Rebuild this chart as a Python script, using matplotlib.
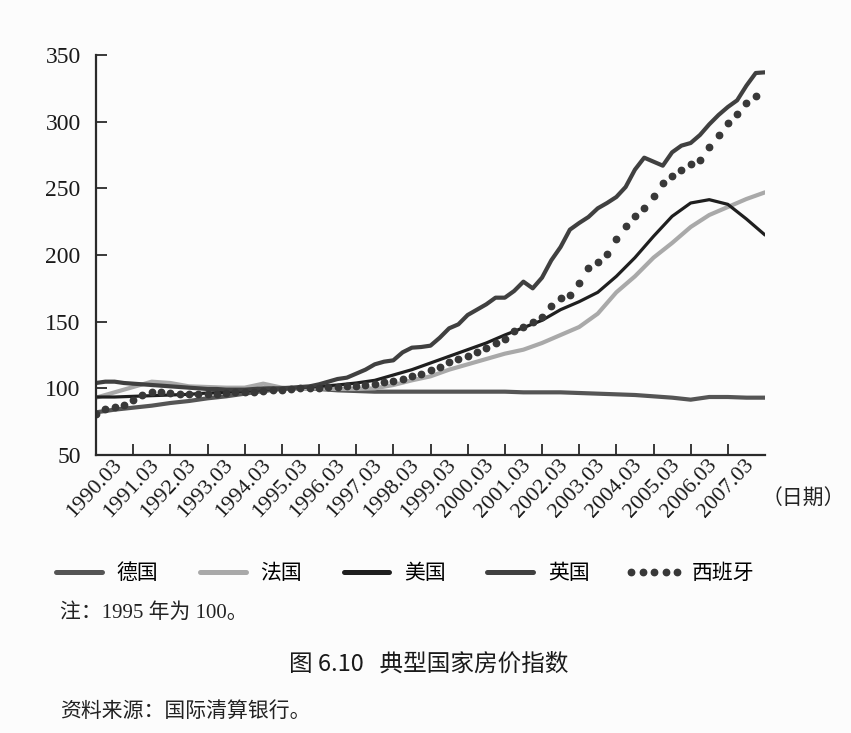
import numpy as np
import matplotlib
matplotlib.use("Agg")
import matplotlib.pyplot as plt
import matplotlib.transforms as mtransforms

plt.rcParams['font.family'] = ['Liberation Serif', 'Noto Sans CJK SC']

# quarterly (UK, Spain) and half-yearly (others) index values, 1995 = 100
q_years = 1990 + np.arange(73) / 4.0
h_years = 1990 + np.arange(37) / 2.0

uk = [104, 105, 105, 104,
      103.5, 103, 102.5, 102,
      101.5, 101, 100.5, 100,
      99.5, 99.5, 99, 99,
      99, 99.5, 100, 100,
      100, 100.5, 101, 101.5,
      103, 105, 107, 108,
      111, 114, 118, 120,
      121, 127, 130.5, 131,
      132, 138, 145, 148,
      155, 159, 163, 168,
      168, 173, 180, 175,
      183, 196, 206, 219,
      224, 228.5, 235, 239,
      243.5, 251, 264, 273,
      270, 267, 277, 282,
      284, 290, 298, 305,
      311, 316, 327, 336.5,
      337]

spain = [81, 84.5, 86, 87.5,
         91, 95, 97, 97,
         96.5, 96, 96, 96,
         96, 96, 96.5, 97,
         97, 97.5, 98, 98.5,
         99, 99.5, 100, 100.5,
         100.5, 101, 101, 101.5,
         102, 102.5, 103.5, 104.5,
         105.5, 107, 109, 111,
         114, 116, 119.5, 122,
         124.5, 127.5, 130.5, 134,
         137, 143, 146, 150,
         153.5, 162, 168, 170,
         179, 190, 195, 201,
         212, 222, 229, 235,
         244, 254, 259, 264,
         268, 271, 281, 290,
         299, 306, 314, 319]

germany = [82, 84, 85.5, 87, 89, 90.5, 92.5, 94, 96, 98, 99.5, 100,
           99.5, 98.5, 98, 97.5, 97.5, 97.5, 97.5, 97.5, 97.5, 97.5,
           97.5, 97, 97, 97, 96.5, 96, 95.5, 95, 94, 93, 91.5, 93.5,
           93.5, 93, 93]

usa = [93.5, 93.5, 94, 94.5, 95, 95.5, 96.5, 97, 98, 99, 100, 100.5,
       101.5, 102.5, 104, 106, 110, 114, 119, 124, 129, 134, 140, 145.5,
       151, 159, 165, 172, 184, 198, 214, 229, 239, 241.5, 238, 227, 215]

france = [93, 97, 101, 105, 104, 101.5, 101, 100.5, 100.5, 103.5, 100.5, 100,
          100, 99.5, 99.5, 100, 102.5, 106, 109, 114, 118, 122, 126, 129,
          134, 140, 146, 156, 172, 184, 198, 209, 221, 230, 236, 242, 247]

tick_years = list(range(1990, 2008))
tick_labels = [f"{y}.03" for y in tick_years]

fig = plt.figure(figsize=(8.51, 7.33), dpi=100)
fig.patch.set_facecolor('#fcfcfc')
ax = fig.add_axes([96/851, 1-455/733, (765-96)/851, 400/733])
ax.set_facecolor('none')

ax.plot(h_years, germany, color='#555555', lw=3.0, label='德国', solid_capstyle='round')
ax.plot(h_years, france, color='#a9a9a9', lw=3.0, label='法国', solid_capstyle='round')
ax.plot(h_years, usa, color='#1f1f1f', lw=2.3, label='美国', solid_capstyle='round')
ax.plot(q_years, uk, color='#404040', lw=3.0, label='英国', solid_capstyle='round')
ax.plot(q_years[:len(spain)], spain, ls='none', marker='o', ms=4.6,
        color='#383838', label='西班牙')

ax.set_xlim(1990, 2008)
ax.set_ylim(50, 350)
ax.set_yticks(range(50, 351, 50))
ax.set_xticks(tick_years)
ax.set_xticklabels([])

# rotated date labels, right end sitting a little right of / below each tick
offset = mtransforms.ScaledTranslation(23/100, -7/100, fig.dpi_scale_trans)
for yr, lab in zip(tick_years, tick_labels):
    ax.text(yr, 0, lab, transform=ax.get_xaxis_transform() + offset,
            rotation=47, rotation_mode='anchor', ha='right', va='center',
            fontsize=16, family='Liberation Serif', color='#1a1a1a')

for side in ['top', 'right']:
    ax.spines[side].set_visible(False)
for side in ['left', 'bottom']:
    ax.spines[side].set_linewidth(1.6)
    ax.spines[side].set_color('#2a2a2a')
ax.tick_params(axis='both', direction='in', length=8, width=1.3, color='#2a2a2a')
ax.tick_params(axis='y', labelsize=17, pad=11, labelcolor='#1a1a1a')

fig.text(762/851, 1-499/733, '（日期）', fontsize=15, family='Noto Sans CJK SC',
         ha='left', va='center', color='#222222')

leg = fig.legend(loc='center', bbox_to_anchor=(402/851, 1-573/733), ncol=5,
                 frameon=False, handlelength=2.8, handletextpad=0.4,
                 columnspacing=1.7, numpoints=5,
                 prop={'family': ['Noto Sans CJK SC'], 'size': 15})
for h in leg.legend_handles[:4]:
    h.set_linewidth(3.6)

fig.text(60/851, 1-613/733, '注：1995 年为 100。', fontsize=15,
         family=['Liberation Serif', 'Noto Sans CJK SC'], va='center', color='#222222')
fig.text(429/851, 1-664/733, '图 6.10   典型国家房价指数', fontsize=17,
         family='Noto Sans CJK SC', ha='center', va='center', color='#1a1a1a')
fig.text(60/851, 1-712/733, '资料来源：国际清算银行。', fontsize=15,
         family=['Liberation Serif', 'Noto Sans CJK SC'], va='center', color='#222222')

fig.savefig('out.png', dpi=100, facecolor=fig.get_facecolor())
